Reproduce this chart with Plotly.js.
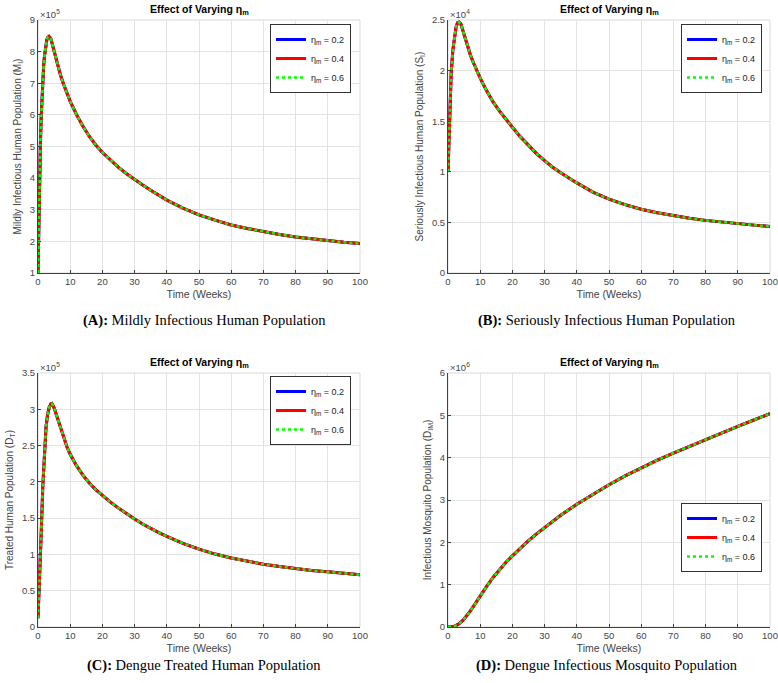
<!DOCTYPE html>
<html>
<head>
<meta charset="utf-8">
<script src="https://cdn.plot.ly/plotly-3.0.1.min.js"></script>
<style>html,body{margin:0;padding:0;background:#fff;}#chart{width:778px;height:683px;}</style>
</head>
<body>
<div id="chart"></div>
<script>
// Time points (weeks)
const timeA = [0, 0.25, 0.5, 0.75, 1, 1.25, 1.5, 1.75, 2, 2.25, 2.5, 2.75, 3, 3.4, 4, 5, 6, 7, 8, 9, 10, 12, 14, 16, 18, 20, 22.5, 25, 27.5, 30, 32.5, 35, 37.5, 40, 45, 50, 55, 60, 65, 70, 75, 80, 85, 90, 95, 100];
// Mildly infectious human population (x10^5)
const mildlyA = [1.0, 2.7, 4.05, 5.1, 5.95, 6.6, 7.1, 7.55, 7.85, 8.1, 8.27, 8.38, 8.45, 8.48, 8.4, 8.0, 7.6, 7.25, 6.95, 6.68, 6.43, 6.0, 5.63, 5.31, 5.04, 4.81, 4.56, 4.34, 4.14, 3.955, 3.78, 3.615, 3.455, 3.305, 3.055, 2.84, 2.67, 2.52, 2.41, 2.31, 2.22, 2.14, 2.08, 2.02, 1.97, 1.93];

const timeB = [0, 0.25, 0.5, 0.75, 1, 1.5, 2, 2.5, 3, 3.4, 4, 5, 6, 7, 8, 9, 10, 12, 14, 16, 18, 20, 22.5, 25, 27.5, 30, 32.5, 35, 37.5, 40, 45, 50, 55, 60, 65, 70, 75, 80, 85, 90, 95, 100];
// Seriously infectious human population (x10^4)
const seriouslyB = [1.0, 1.3, 1.52, 1.78, 1.98, 2.2, 2.34, 2.43, 2.475, 2.48, 2.46, 2.35, 2.24, 2.15, 2.07, 1.995, 1.925, 1.8, 1.69, 1.6, 1.515, 1.44, 1.345, 1.26, 1.18, 1.11, 1.045, 0.99, 0.937, 0.89, 0.8, 0.73, 0.675, 0.63, 0.595, 0.565, 0.54, 0.52, 0.502, 0.487, 0.473, 0.46];

const timeC = [0, 0.5, 1, 1.5, 2, 2.5, 3, 3.5, 4, 4.3, 5, 6, 7, 8, 9, 10, 12, 14, 16, 18, 20, 22.5, 25, 27.5, 30, 32.5, 35, 37.5, 40, 45, 50, 55, 60, 65, 70, 75, 80, 85, 90, 95, 100];
// Treated human population (x10^5)
const treatedC = [0.12, 0.6, 1.3, 1.95, 2.45, 2.76, 2.93, 3.03, 3.075, 3.08, 3.02, 2.88, 2.73, 2.59, 2.48, 2.38, 2.22, 2.09, 1.98, 1.89, 1.81, 1.72, 1.638, 1.56, 1.488, 1.42, 1.358, 1.3, 1.248, 1.153, 1.073, 1.005, 0.95, 0.905, 0.865, 0.833, 0.805, 0.78, 0.76, 0.74, 0.72];

const timeD = [0, 1, 2, 3, 4, 5, 6, 7, 8, 9, 10, 12, 14, 16, 18, 20, 22.5, 25, 27.5, 30, 35, 40, 45, 50, 55, 60, 65, 70, 75, 80, 85, 90, 95, 100];
// Infectious mosquito population (x10^6)
const mosquitoD = [0, 0.005, 0.02, 0.055, 0.11, 0.19, 0.28, 0.385, 0.5, 0.62, 0.74, 0.96, 1.17, 1.36, 1.53, 1.68, 1.865, 2.04, 2.2, 2.35, 2.64, 2.9, 3.14, 3.36, 3.57, 3.76, 3.94, 4.11, 4.27, 4.43, 4.59, 4.74, 4.89, 5.04];

const etaValues = ['0.2', '0.4', '0.6'];
const seriesColors = ['#0000ff', '#ff0000', '#00ff00'];
const seriesDash = ['solid', 'solid', 'dot'];
const seriesWidth = [3, 3, 2.5];

const panels = [
  {t: timeA, y: mildlyA, ax: '', leg: 'legend', yr: [1, 9], dt: 1, exp: 5,
   ytitle: 'Mildly Infectious Human Population (M<sub>I</sub>)',
   cap: '<b>(A):</b> Mildly Infectious Human Population'},
  {t: timeB, y: seriouslyB, ax: '2', leg: 'legend2', yr: [0, 2.5], dt: 0.5, exp: 4,
   ytitle: 'Seriously Infectious Human Population (S<sub>I</sub>)',
   cap: '<b>(B):</b> Seriously Infectious Human Population'},
  {t: timeC, y: treatedC, ax: '3', leg: 'legend3', yr: [0, 3.5], dt: 0.5, exp: 5,
   ytitle: 'Treated Human Population (D<sub>T</sub>)',
   cap: '<b>(C):</b> Dengue Treated Human Population'},
  {t: timeD, y: mosquitoD, ax: '4', leg: 'legend4', yr: [0, 6], dt: 1, exp: 6,
   ytitle: 'Infectious Mosquito Population (D<sub>IM</sub>)',
   cap: '<b>(D):</b> Dengue Infectious Mosquito Population'}
];

const W = 778, H = 683;
const px = v => v / W, py = v => 1 - v / H;
const xDom = [[38, 360], [448, 770], [38, 360], [448, 770]];
const yDom = [[273, 20], [273, 20], [627, 373], [627, 373]];
const legPos = [[270, 24], [681, 24], [270, 376], [681, 503]];
const capPos = [[204, 321], [607, 321], [204, 665], [607, 665]];

const textColor = '#444444';
const font = {family: 'Liberation Sans, Arial, sans-serif', size: 10, color: textColor};

const traces = [];
const layout = {
  width: W, height: H,
  margin: {l: 0, r: 0, t: 0, b: 0},
  paper_bgcolor: '#ffffff', plot_bgcolor: '#ffffff',
  font: font,
  annotations: [], shapes: []
};

panels.forEach((p, i) => {
  etaValues.forEach((eta, k) => {
    traces.push({
      x: p.t, y: p.y, type: 'scatter', mode: 'lines',
      xaxis: 'x' + p.ax, yaxis: 'y' + p.ax, legend: p.leg,
      name: 'η<sub>m</sub> = ' + eta,
      line: {color: seriesColors[k], width: seriesWidth[k], dash: seriesDash[k], shape: 'linear'},
      hoverinfo: 'skip'
    });
  });
  const xa = 'xaxis' + p.ax, ya = 'yaxis' + p.ax;
  layout[xa] = {
    domain: [px(xDom[i][0]), px(xDom[i][1])], anchor: 'y' + p.ax,
    range: [0, 100], dtick: 10, tick0: 0,
    showgrid: true, gridcolor: '#e3e3e3', gridwidth: 1, zeroline: false,
    showline: true, linecolor: '#404040', linewidth: 1,
    ticks: 'inside', ticklen: 3, tickcolor: '#404040',
    tickfont: {family: font.family, size: 9.5, color: textColor},
    title: {text: 'Time (Weeks)', font: {family: font.family, size: 10.5, color: textColor}, standoff: 4}
  };
  layout[ya] = {
    domain: [py(yDom[i][0]), py(yDom[i][1])], anchor: 'x' + p.ax,
    range: p.yr, dtick: p.dt, tick0: 0,
    showgrid: true, gridcolor: '#e3e3e3', gridwidth: 1, zeroline: false,
    showline: true, linecolor: '#404040', linewidth: 1,
    ticks: 'inside', ticklen: 3, tickcolor: '#404040',
    tickfont: {family: font.family, size: 9.5, color: textColor},
    title: {text: p.ytitle, font: {family: font.family, size: 10, color: textColor}, standoff: 6}
  };
  layout[p.leg] = {
    x: px(legPos[i][0]), y: py(legPos[i][1]), xanchor: 'left', yanchor: 'top',
    bgcolor: '#ffffff', bordercolor: '#333333', borderwidth: 1,
    font: {family: font.family, size: 9, color: '#222222'},
    tracegroupgap: 0, itemwidth: 30
  };
  layout.shapes.push({
    type: 'rect', xref: 'x' + p.ax + ' domain', yref: 'y' + p.ax + ' domain',
    x0: 0, x1: 1, y0: 0, y1: 1, line: {color: '#d9d9d9', width: 1}, layer: 'below'
  });
  layout.annotations.push({
    xref: 'x' + p.ax + ' domain', yref: 'y' + p.ax + ' domain', x: 0.5, y: 1,
    xanchor: 'center', yanchor: 'bottom', yshift: 1, showarrow: false,
    text: '<b>Effect of Varying η<sub>m</sub></b>',
    font: {family: font.family, size: 10.5, color: '#000000'}
  });
  layout.annotations.push({
    xref: 'x' + p.ax + ' domain', yref: 'y' + p.ax + ' domain', x: 0, y: 1,
    xanchor: 'left', yanchor: 'bottom', xshift: 0, yshift: -2, showarrow: false,
    text: '×10<sup>' + p.exp + '</sup>',
    font: {family: font.family, size: 9.5, color: textColor}
  });
  layout.annotations.push({
    xref: 'paper', yref: 'paper', x: px(capPos[i][0]), y: py(capPos[i][1]),
    xanchor: 'center', yanchor: 'middle', showarrow: false,
    text: p.cap,
    font: {family: 'Liberation Serif, Times New Roman, serif', size: 14.5, color: '#000000'}
  });
});

Plotly.newPlot('chart', traces, layout, {displayModeBar: false, staticPlot: true});
</script>
</body>
</html>
